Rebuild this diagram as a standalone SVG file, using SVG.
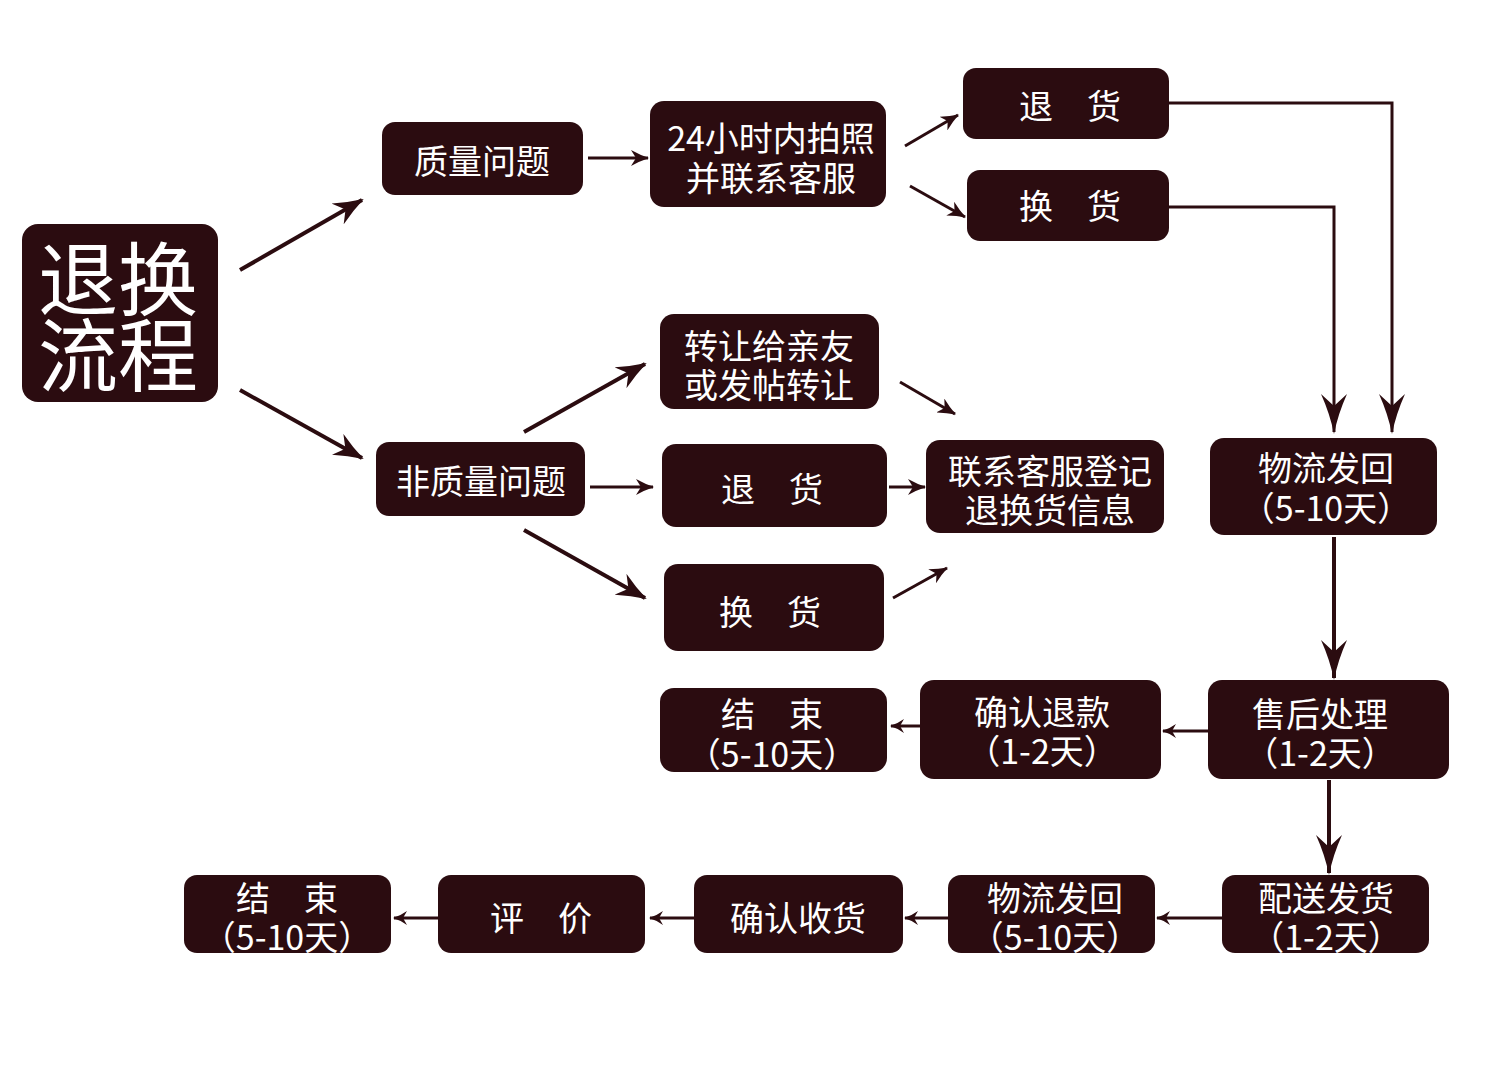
<svg xmlns="http://www.w3.org/2000/svg" width="1500" height="1079" viewBox="0 0 1500 1079">
<defs>
<style>
.box{fill:#2b0c10}
.t{fill:#ffffff;font-family:"Noto Sans CJK SC","Noto Sans",sans-serif;font-size:34px;text-anchor:middle;dominant-baseline:central}
.title{fill:#ffffff;font-family:"Noto Sans CJK SC","Noto Sans",sans-serif;font-size:80px;font-weight:400;text-anchor:middle;dominant-baseline:central}
.c{fill:none;stroke:#2b0c10;stroke-linecap:butt;stroke-linejoin:miter}
.w4{stroke-width:4}
.w3{stroke-width:3}
</style>
<marker id="aL" viewBox="0 -12 30 24" refX="28" refY="0" markerWidth="30" markerHeight="24" markerUnits="userSpaceOnUse" orient="auto">
<path d="M0,-12 Q14,-5 30,0 Q14,5 0,12 L9,0 Z" fill="#2b0c10"/>
</marker>
<marker id="aV" viewBox="0 -13 40 26" refX="38" refY="0" markerWidth="40" markerHeight="26" markerUnits="userSpaceOnUse" orient="auto">
<path d="M0,-13 Q20,-4 40,0 Q20,4 0,13 L12,0 Z" fill="#2b0c10"/>
</marker>
<marker id="aM" viewBox="0 -8 18 16" refX="17" refY="0" markerWidth="18" markerHeight="16" markerUnits="userSpaceOnUse" orient="auto">
<path d="M0,-8 Q9,-3 18,0 Q9,3 0,8 L5,0 Z" fill="#2b0c10"/>
</marker>
<marker id="aS" viewBox="0 -7 14 14" refX="13" refY="0" markerWidth="14" markerHeight="14" markerUnits="userSpaceOnUse" orient="auto">
<path d="M0,-7 Q7,-2 14,0 Q7,2 0,7 L4,0 Z" fill="#2b0c10"/>
</marker>
</defs>
<rect width="1500" height="1079" fill="#ffffff"/>

<g id="connectors">
<line class="c w4" x1="240" y1="270" x2="362" y2="200" marker-end="url(#aL)"/>
<line class="c w4" x1="240" y1="390" x2="362" y2="458" marker-end="url(#aL)"/>
<line class="c w3" x1="588" y1="158" x2="648" y2="158" marker-end="url(#aM)"/>
<line class="c w3" x1="905" y1="146" x2="958" y2="115" marker-end="url(#aM)"/>
<line class="c w3" x1="910" y1="186" x2="965" y2="217" marker-end="url(#aM)"/>
<path class="c w3" d="M1169,103 H1392 V432" marker-end="url(#aV)"/>
<path class="c w3" d="M1169,207 H1334 V432" marker-end="url(#aV)"/>
<line class="c w4" x1="524" y1="432" x2="645" y2="364" marker-end="url(#aL)"/>
<line class="c w3" x1="590" y1="487" x2="653" y2="487" marker-end="url(#aM)"/>
<line class="c w4" x1="524" y1="530" x2="645" y2="598" marker-end="url(#aL)"/>
<line class="c w3" x1="900" y1="382" x2="955" y2="414" marker-end="url(#aM)"/>
<line class="c w3" x1="889" y1="487" x2="925" y2="487" marker-end="url(#aM)"/>
<line class="c w3" x1="893" y1="598" x2="947" y2="568" marker-end="url(#aM)"/>
<line class="c w4" x1="1334" y1="537" x2="1334" y2="678" marker-end="url(#aV)"/>
<line class="c w3" x1="1208" y1="731" x2="1163" y2="731" marker-end="url(#aS)"/>
<line class="c w3" x1="920" y1="726" x2="891" y2="726" marker-end="url(#aS)"/>
<line class="c w4" x1="1329" y1="780" x2="1329" y2="873" marker-end="url(#aV)"/>
<line class="c w3" x1="1222" y1="918" x2="1157" y2="918" marker-end="url(#aS)"/>
<line class="c w3" x1="948" y1="918" x2="905" y2="918" marker-end="url(#aS)"/>
<line class="c w3" x1="694" y1="918" x2="650" y2="918" marker-end="url(#aS)"/>
<line class="c w3" x1="438" y1="918" x2="394" y2="918" marker-end="url(#aS)"/>
</g>

<g id="n-title">
<rect class="box" x="22" y="224" width="196" height="178" rx="16"/>
<text class="title"><tspan x="118" y="274">退换</tspan><tspan x="118" y="350">流程</tspan></text>
</g>
<g id="n-quality">
<rect class="box" x="382" y="122" width="201" height="73" rx="13"/>
<text class="t" x="482" y="159">质量问题</text>
</g>
<g id="n-photo">
<rect class="box" x="650" y="101" width="236" height="106" rx="14"/>
<text class="t"><tspan x="771" y="136">24小时内拍照</tspan><tspan x="771" y="176">并联系客服</tspan></text>
</g>
<g id="n-return1">
<rect class="box" x="963" y="68" width="206" height="71" rx="13"/>
<text class="t" x="1070" y="104">退　货</text>
</g>
<g id="n-exchange1">
<rect class="box" x="967" y="170" width="202" height="71" rx="13"/>
<text class="t" x="1070" y="204">换　货</text>
</g>
<g id="n-transfer">
<rect class="box" x="660" y="314" width="219" height="95" rx="14"/>
<text class="t"><tspan x="769" y="344">转让给亲友</tspan><tspan x="769" y="383">或发帖转让</tspan></text>
</g>
<g id="n-nonquality">
<rect class="box" x="376" y="442" width="209" height="74" rx="13"/>
<text class="t" x="481" y="479">非质量问题</text>
</g>
<g id="n-return2">
<rect class="box" x="662" y="444" width="225" height="83" rx="14"/>
<text class="t" x="772" y="487">退　货</text>
</g>
<g id="n-register">
<rect class="box" x="926" y="440" width="238" height="93" rx="14"/>
<text class="t"><tspan x="1050" y="469">联系客服登记</tspan><tspan x="1050" y="508">退换货信息</tspan></text>
</g>
<g id="n-exchange2">
<rect class="box" x="664" y="564" width="220" height="87" rx="14"/>
<text class="t" x="770" y="610">换　货</text>
</g>
<g id="n-logistics1">
<rect class="box" x="1210" y="438" width="227" height="97" rx="14"/>
<text class="t"><tspan x="1326" y="466">物流发回</tspan><tspan x="1326" y="506">（5-10天）</tspan></text>
</g>
<g id="n-aftersale">
<rect class="box" x="1208" y="680" width="241" height="99" rx="14"/>
<text class="t"><tspan x="1320" y="712">售后处理</tspan><tspan x="1320" y="751">（1-2天）</tspan></text>
</g>
<g id="n-refund">
<rect class="box" x="920" y="680" width="241" height="99" rx="14"/>
<text class="t"><tspan x="1042" y="710">确认退款</tspan><tspan x="1042" y="749">（1-2天）</tspan></text>
</g>
<g id="n-end1">
<rect class="box" x="660" y="688" width="227" height="84" rx="14"/>
<text class="t"><tspan x="772" y="712">结　束</tspan><tspan x="772" y="752">（5-10天）</tspan></text>
</g>
<g id="n-ship">
<rect class="box" x="1222" y="875" width="207" height="78" rx="13"/>
<text class="t"><tspan x="1326" y="896">配送发货</tspan><tspan x="1326" y="935">（1-2天）</tspan></text>
</g>
<g id="n-logistics2">
<rect class="box" x="948" y="875" width="207" height="78" rx="13"/>
<text class="t"><tspan x="1055" y="896">物流发回</tspan><tspan x="1055" y="935">（5-10天）</tspan></text>
</g>
<g id="n-receive">
<rect class="box" x="694" y="875" width="209" height="78" rx="13"/>
<text class="t" x="798" y="916">确认收货</text>
</g>
<g id="n-review">
<rect class="box" x="438" y="875" width="207" height="78" rx="13"/>
<text class="t" x="541" y="916">评　价</text>
</g>
<g id="n-end2">
<rect class="box" x="184" y="875" width="207" height="78" rx="13"/>
<text class="t"><tspan x="287" y="896">结　束</tspan><tspan x="287" y="935">（5-10天）</tspan></text>
</g>
</svg>
